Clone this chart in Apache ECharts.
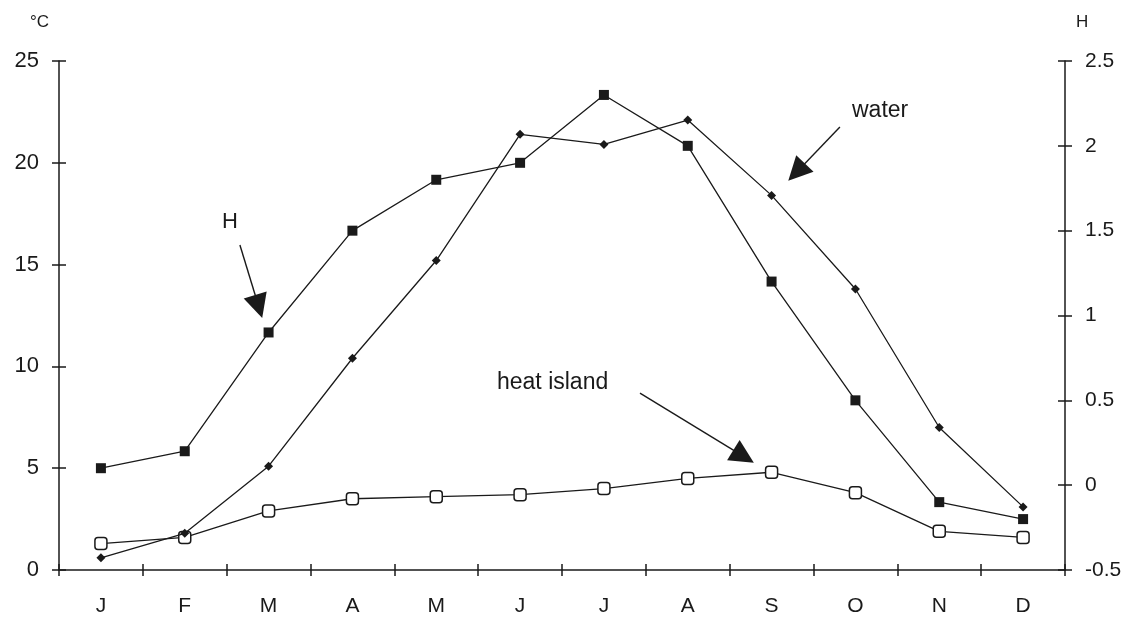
<!DOCTYPE html>
<html>
<head>
<meta charset="utf-8">
<script src="https://cdn.jsdelivr.net/npm/echarts@6/dist/echarts.min.js"></script>
<style>html,body{margin:0;padding:0;background:#fff;}#c{width:1127px;height:617px;}</style>
</head>
<body>
<div id="c"></div>
<script>
const months = ['J','F','M','A','M','J','J','A','S','O','N','D'];
const waterC = [0.6, 1.8, 5.1, 10.4, 15.2, 21.4, 20.9, 22.1, 18.4, 13.8, 7.0, 3.1];
const heatIslandC = [1.3, 1.6, 2.9, 3.5, 3.6, 3.7, 4.0, 4.5, 4.8, 3.8, 1.9, 1.6];
const hValues = [0.1, 0.2, 0.9, 1.5, 1.8, 1.9, 2.3, 2.0, 1.2, 0.5, -0.1, -0.2];
const leftTicks = {min: 0, max: 25, interval: 5};
const rightTicks = {min: -0.5, max: 2.5, interval: 0.5};
// annotation arrows in (month index, °C) units
const arrowH = [[1.658, 15.96], [1.882, 12.94]];
const arrowWater = [[8.815, 21.76], [8.298, 19.54]];
const arrowHeat = [[6.43, 8.69], [7.666, 5.58]];

const FONT = 'Liberation Sans, Arial, sans-serif';
const INK = '#1a1a1a';
const chart = echarts.init(document.getElementById('c'));

const tickStyle = {color: INK, width: 1.5};

const option = {
  backgroundColor: '#fff',
  animation: false,
  grid: {left: 59, right: 62, top: 61, bottom: 47},
  xAxis: [
    {
      type: 'category', data: months, position: 'bottom',
      axisLine: {onZero: false, lineStyle: {color: INK, width: 1.5}},
      axisTick: {show: true, inside: false, length: 6, lineStyle: tickStyle},
      axisLabel: {color: INK, fontSize: 21, fontFamily: FONT, margin: 26},
      splitLine: {show: false}
    },
    {
      type: 'category', data: months, position: 'bottom',
      axisLine: {show: false, onZero: false},
      axisTick: {show: true, inside: true, length: 6, lineStyle: tickStyle},
      axisLabel: {show: false},
      splitLine: {show: false}
    },
    {
      type: 'value', min: -0.5, max: 11.5, show: false,
      axisLine: {onZero: false}
    }
  ],
  yAxis: [
    {
      type: 'value', position: 'left', min: leftTicks.min, max: leftTicks.max, interval: leftTicks.interval,
      name: '°C', nameLocation: 'end', nameGap: 22,
      nameTextStyle: {color: INK, fontSize: 17, fontFamily: FONT, align: 'right', padding: [0, 10, 8, 0]},
      axisLine: {show: true, onZero: false, lineStyle: {color: INK, width: 1.5}},
      axisTick: {show: true, inside: false, length: 7, lineStyle: tickStyle},
      axisLabel: {color: INK, fontSize: 22, fontFamily: FONT, margin: 20},
      splitLine: {show: false}
    },
    {
      type: 'value', position: 'right', min: rightTicks.min, max: rightTicks.max, interval: rightTicks.interval,
      name: 'H', nameLocation: 'end', nameGap: 22,
      nameTextStyle: {color: INK, fontSize: 17, fontFamily: FONT, align: 'left', padding: [0, 0, 8, 11]},
      axisLine: {show: true, onZero: false, lineStyle: {color: INK, width: 1.5}},
      axisTick: {show: true, inside: false, length: 7, lineStyle: tickStyle},
      axisLabel: {color: INK, fontSize: 21, fontFamily: FONT, margin: 20},
      splitLine: {show: false}
    },
    {
      type: 'value', position: 'left', min: leftTicks.min, max: leftTicks.max, interval: leftTicks.interval,
      axisLine: {show: false, onZero: false},
      axisTick: {show: true, inside: true, length: 7, lineStyle: tickStyle},
      axisLabel: {show: false}, splitLine: {show: false}
    },
    {
      type: 'value', position: 'right', min: rightTicks.min, max: rightTicks.max, interval: rightTicks.interval,
      axisLine: {show: false, onZero: false},
      axisTick: {show: true, inside: true, length: 7, lineStyle: tickStyle},
      axisLabel: {show: false}, splitLine: {show: false}
    }
  ],
  series: [
    {
      name: 'heat island', type: 'line', yAxisIndex: 0, data: heatIslandC,
      symbol: 'roundRect', symbolSize: 12,
      lineStyle: {color: INK, width: 1.3},
      itemStyle: {color: '#fff', borderColor: INK, borderWidth: 1.5},
      z: 3
    },
    {
      name: 'water', type: 'line', yAxisIndex: 0, data: waterC,
      symbol: 'diamond', symbolSize: 9,
      lineStyle: {color: INK, width: 1.3},
      itemStyle: {color: INK},
      z: 4
    },
    {
      name: 'H', type: 'line', yAxisIndex: 1, data: hValues,
      symbol: 'rect', symbolSize: 10,
      lineStyle: {color: INK, width: 1.3},
      itemStyle: {color: INK},
      z: 5
    },
    {
      name: 'arrows', type: 'lines', coordinateSystem: 'cartesian2d',
      xAxisIndex: 2, yAxisIndex: 0,
      symbol: ['none', 'triangle'], symbolSize: 24,
      silent: true,
      lineStyle: {color: INK, width: 1.4, opacity: 1, curveness: 0},
      data: [
        {coords: arrowH},
        {coords: arrowWater},
        {coords: arrowHeat}
      ],
      z: 6
    }
  ],
  graphic: [
    {type: 'text', left: 222, top: 211, style: {text: 'H', fontSize: 22, fontFamily: FONT, fill: INK}},
    {type: 'text', left: 852, top: 99, style: {text: 'water', fontSize: 23, fontFamily: FONT, fill: INK}},
    {type: 'text', left: 497, top: 371, style: {text: 'heat island', fontSize: 23, fontFamily: FONT, fill: INK}}
  ]
};
chart.setOption(option);
</script>
</body>
</html>
